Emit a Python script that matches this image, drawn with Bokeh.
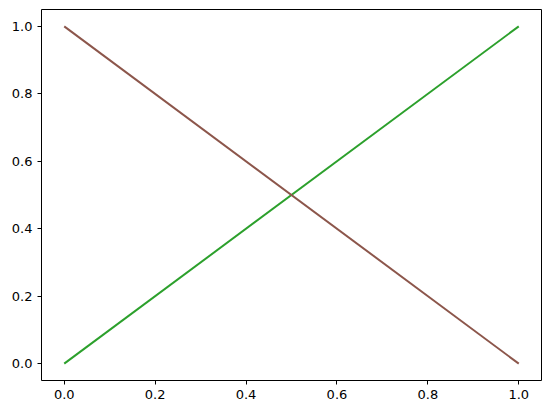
from bokeh.plotting import figure
from bokeh.embed import file_html
from bokeh.resources import INLINE
from bokeh.models import Range1d, FixedTicker, CustomJSTickFormatter

x_vals = [0.0, 1.0]
rising = [0.0, 1.0]
falling = [1.0, 0.0]
ticks = [0.0, 0.2, 0.4, 0.6, 0.8, 1.0]

p = figure(width=542, height=405, output_backend="svg", toolbar_location=None,
           x_range=Range1d(-0.05, 1.05), y_range=Range1d(-0.05, 1.05),
           min_border_left=41, min_border_right=1, min_border_top=9, min_border_bottom=25)

p.line(x_vals, rising, line_color="#2ca02c", line_width=2)
p.line(x_vals, falling, line_color="#8c564b", line_width=2)

p.grid.visible = False
p.outline_line_color = "black"
p.outline_line_width = 1
p.outline_line_alpha = 1.0
p.background_fill_color = "white"
p.border_fill_color = "white"

fmt = CustomJSTickFormatter(code="return tick.toFixed(1);")
for ax in (p.xaxis, p.yaxis):
    ax.ticker = FixedTicker(ticks=ticks)
    ax.formatter = fmt
    ax.axis_line_color = None
    ax.major_tick_in = 0
    ax.major_tick_out = 4
    ax.major_tick_line_color = "black"
    ax.minor_tick_line_color = None
    ax.major_label_text_font = "DejaVu Sans"
    ax.major_label_text_font_size = "13px"
    ax.major_label_text_color = "black"
    ax.major_label_standoff = 5

open("out.html", "w").write(file_html(p, INLINE))
